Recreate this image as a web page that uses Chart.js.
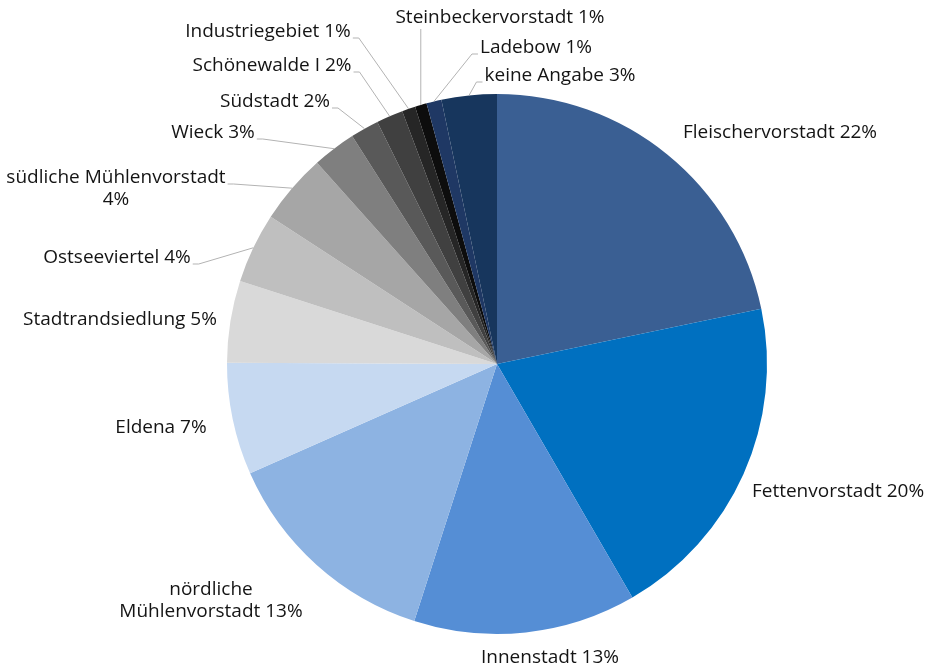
<!DOCTYPE html>
<html lang="de">
<head>
<meta charset="utf-8">
<title>Stadtteile</title>
<style>
  html, body { margin: 0; padding: 0; background: #fff; }
  #wrap { width: 927px; height: 670px; position: relative; }
</style>
<script src="https://cdn.jsdelivr.net/npm/chart.js@4.4.1/dist/chart.umd.min.js"></script>
</head>
<body>
<div id="wrap"><canvas id="stadtteilChart"></canvas></div>
<script>
// Anteile je Stadtteil (in %), im Uhrzeigersinn ab 12 Uhr
const categories = [
  'Fleischervorstadt', 'Fettenvorstadt', 'Innenstadt', 'nördliche Mühlenvorstadt',
  'Eldena', 'Stadtrandsiedlung', 'Ostseeviertel', 'südliche Mühlenvorstadt',
  'Wieck', 'Südstadt', 'Schönewalde I', 'Industriegebiet',
  'Steinbeckervorstadt', 'Ladebow', 'keine Angabe'
];
const shares = [21.7, 19.9, 13.3, 13.4, 6.7, 4.9, 4.2, 4.2, 2.6, 1.7, 1.6, 0.8, 0.7, 0.9, 3.3];
const sliceColors = [
  '#3a5f93', '#0070c0', '#558ed5', '#8db3e2', '#c6d9f1',
  '#d9d9d9', '#bfbfbf', '#a6a6a6', '#7f7f7f', '#595959',
  '#404040', '#262626', '#0d0d0d', '#1f3864', '#17365d'
];

// Beschriftung: Mittelpunkt relativ zur Kreismitte, Umbruch und Führungslinie
const labelLayout = [
  { dx: 283, dy: -231 },
  { dx: 341, dy: 128 },
  { dx: 53, dy: 294 },
  { dx: -286, dy: 237, wrap: 'name' },
  { dx: -336, dy: 64 },
  { dx: -377, dy: -44 },
  { dx: -380, dy: -106, leader: 'right' },
  { dx: -381, dy: -175, wrap: 'pct', leader: 'right' },
  { dx: -284, dy: -231, leader: 'right' },
  { dx: -222, dy: -262, leader: 'right' },
  { dx: -225, dy: -298, leader: 'right' },
  { dx: -229, dy: -332, leader: 'right' },
  { dx: 3, dy: -346, leader: 'bottom' },
  { dx: 39, dy: -316, leader: 'left' },
  { dx: 63, dy: -288, leader: 'left' }
];

const FONT = '19px "Open Sans", "Noto Sans", sans-serif';
const LINE_H = 22;

const outsideLabels = {
  id: 'outsideLabels',
  afterDatasetsDraw(chart) {
    const ctx = chart.ctx;
    const meta = chart.getDatasetMeta(0);
    const total = shares.reduce((a, b) => a + b, 0);
    ctx.save();
    ctx.font = FONT;
    ctx.textAlign = 'center';
    ctx.textBaseline = 'middle';
    meta.data.forEach((arc, i) => {
      const p = arc.getProps(['x', 'y', 'startAngle', 'endAngle', 'outerRadius'], true);
      const mid = (p.startAngle + p.endAngle) / 2;
      const ax = p.x + Math.cos(mid) * p.outerRadius;
      const ay = p.y + Math.sin(mid) * p.outerRadius;
      const pct = Math.round(shares[i] / total * 100) + '%';
      const L = labelLayout[i];
      const name = categories[i];
      let lines;
      if (L.wrap === 'name') {
        const k = name.indexOf(' ');
        lines = [name.slice(0, k), name.slice(k + 1) + ' ' + pct];
      } else if (L.wrap === 'pct') {
        lines = [name, pct];
      } else {
        lines = [name + ' ' + pct];
      }
      const cx = p.x + L.dx;
      const cy = p.y + L.dy;
      const w = Math.max(...lines.map(s => ctx.measureText(s).width));
      const h = lines.length * LINE_H;
      const firstY = cy - h / 2 + LINE_H / 2;

      if (L.leader) {
        ctx.strokeStyle = '#b3b3b3';
        ctx.lineWidth = 1;
        ctx.beginPath();
        if (L.leader === 'bottom') {
          ctx.moveTo(ax, cy + h / 2);
          ctx.lineTo(ax, ay);
        } else {
          const dir = L.leader === 'right' ? 1 : -1;
          const sx = cx + dir * (w / 2 + 2);
          const sy = firstY + 6;
          ctx.moveTo(sx, sy);
          ctx.lineTo(sx + dir * 6, sy);
          ctx.lineTo(ax, ay);
        }
        ctx.stroke();
      }

      ctx.fillStyle = '#141414';
      lines.forEach((s, j) => ctx.fillText(s, cx, firstY + j * LINE_H));
    });
    ctx.restore();
  }
};

new Chart(document.getElementById('stadtteilChart'), {
  type: 'pie',
  data: {
    labels: categories,
    datasets: [{
      data: shares,
      backgroundColor: sliceColors,
      borderWidth: 0,
      hoverOffset: 0,
      offset: 0
    }]
  },
  options: {
    responsive: true,
    maintainAspectRatio: false,
    animation: false,
    layout: { padding: { left: 227, right: 160, top: 94, bottom: 36 } },
    plugins: {
      legend: { display: false },
      tooltip: { enabled: false }
    }
  },
  plugins: [outsideLabels]
});
</script>
</body>
</html>
